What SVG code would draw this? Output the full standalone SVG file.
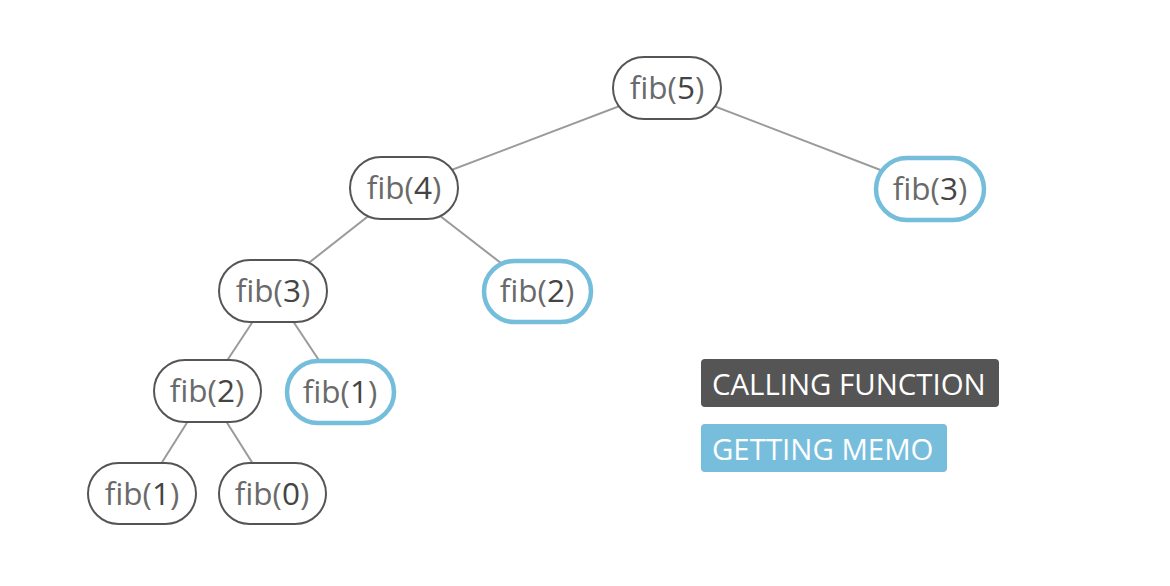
<svg xmlns="http://www.w3.org/2000/svg" width="1170" height="586" viewBox="0 0 1170 586">
<style>
.n rect{fill:#fff;stroke:#555;stroke-width:2}
.m rect{fill:#fff;stroke:#74bddb;stroke-width:4.5}
.t{font-family:"Open Sans","Noto Sans",sans-serif;font-size:31.5px;fill:#6a6a6a;text-anchor:middle}
.d{fill:#444}
#edges line{stroke:#9a9a9a;stroke-width:2}
.lg{font-family:"Open Sans","Noto Sans",sans-serif;font-size:29.4px;fill:#fff}
</style>
<rect width="1170" height="586" fill="#fff"/>
<g id="edges">
<line x1="667" y1="88" x2="404" y2="188"/>
<line x1="667" y1="88" x2="930" y2="189"/>
<line x1="404" y1="188" x2="273" y2="291"/>
<line x1="404" y1="188" x2="537" y2="291"/>
<line x1="273" y1="291" x2="207" y2="391"/>
<line x1="273" y1="291" x2="340" y2="392"/>
<line x1="207" y1="391" x2="142" y2="494"/>
<line x1="207" y1="391" x2="272" y2="494"/>
</g>
<g id="fib5" class="n"><rect x="613" y="57" width="108" height="62" rx="31"/><text class="t" x="667" y="99">fib(<tspan class="d">5</tspan>)</text></g>
<g id="fib4" class="n"><rect x="350" y="157" width="108" height="62" rx="31"/><text class="t" x="404" y="199">fib(<tspan class="d">4</tspan>)</text></g>
<g id="fib3r" class="m"><rect x="876" y="158" width="108" height="62" rx="31"/><text class="t" x="930" y="200">fib(<tspan class="d">3</tspan>)</text></g>
<g id="fib3l" class="n"><rect x="219" y="260" width="108" height="62" rx="31"/><text class="t" x="273" y="302">fib(<tspan class="d">3</tspan>)</text></g>
<g id="fib2r" class="m"><rect x="484" y="261" width="107" height="61" rx="30.5"/><text class="t" x="537" y="302">fib(<tspan class="d">2</tspan>)</text></g>
<g id="fib2l" class="n"><rect x="154" y="360" width="107" height="62" rx="31"/><text class="t" x="207" y="402">fib(<tspan class="d">2</tspan>)</text></g>
<g id="fib1r" class="m"><rect x="287" y="361" width="107" height="62" rx="31"/><text class="t" x="340" y="403">fib(<tspan class="d">1</tspan>)</text></g>
<g id="fib1l" class="n"><rect x="88" y="463" width="108" height="61" rx="30.5"/><text class="t" x="142" y="505">fib(<tspan class="d">1</tspan>)</text></g>
<g id="fib0" class="n"><rect x="219" y="463" width="107" height="61" rx="30.5"/><text class="t" x="272" y="505">fib(<tspan class="d">0</tspan>)</text></g>
<g id="legend-calling"><rect x="701" y="359" width="298" height="48" rx="4" fill="#555"/><text class="lg" x="712" y="395">CALLING FUNCTION</text></g>
<g id="legend-memo"><rect x="701" y="424" width="246" height="48" rx="4" fill="#77bedd"/><text class="lg" x="712" y="460">GETTING MEMO</text></g>
</svg>
